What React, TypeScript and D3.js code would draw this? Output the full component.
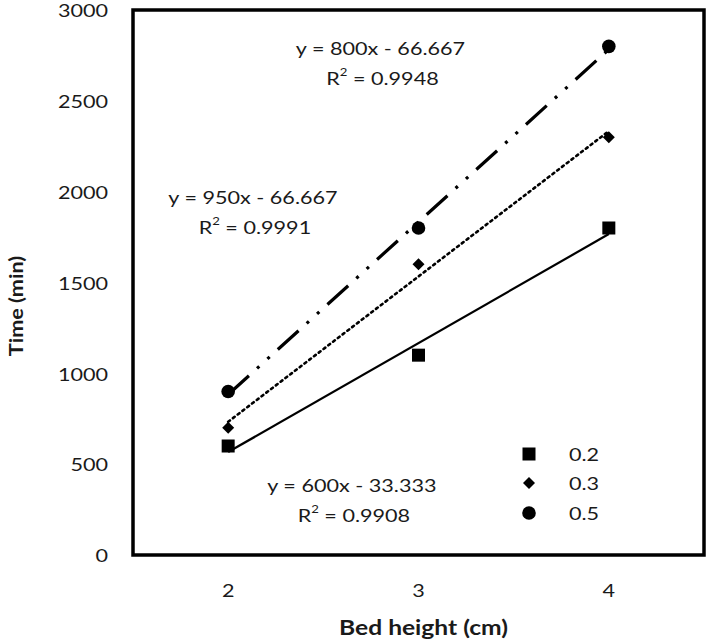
import React from "react";
import * as d3 from "d3";

const xValues = [2, 3, 4];
const seriesNames = ["0.2", "0.3", "0.5"];
const series02 = [600, 1100, 1800];
const series03 = [700, 1600, 2300];
const series05 = [900, 1800, 2800];
const yTicks = [0, 500, 1000, 1500, 2000, 2500, 3000];
const xTicks = [2, 3, 4];
const equationTexts = ["y = 600x - 33.333", "y = 800x - 66.667", "y = 950x - 66.667"];
const r2Texts = ["0.9908", "0.9948", "0.9991"];
// label anchor positions in data units (x, y)
const labelX = [2.65, 2.8, 2.13];
const labelY = [385, 2790, 1970];

const W = 709;
const H = 643;
const L = 133, R = 704, T = 10, B = 555;
const FONT = "Lato, 'Open Sans', sans-serif";
const SX = 1.2;
const COLOR = "#1a1a1a";

function fit(xs: number[], ys: number[]) {
  const mx = d3.mean(xs)!;
  const my = d3.mean(ys)!;
  let num = 0, den = 0;
  xs.forEach((x, i) => { num += (x - mx) * (ys[i] - my); den += (x - mx) ** 2; });
  const m = num / den;
  const b = my - m * mx;
  return (x: number) => m * x + b;
}

function Txt({ x, y, anchor = "middle", size = 18, weight = "normal", rotate = 0, children }: any) {
  return (
    <g transform={`translate(${x},${y}) rotate(${rotate}) scale(${SX},1)`}>
      <text x={0} y={0} textAnchor={anchor} dominantBaseline="central" fontSize={size} fontWeight={weight} fill={COLOR}>
        {children}
      </text>
    </g>
  );
}

export default function App() {
  const x = d3.scaleLinear().domain([1.5, 4.5]).range([L, R]);
  const y = d3.scaleLinear().domain([0, 3000]).range([B, T]);
  const data = [series02, series03, series05];
  const styles = [
    { dash: "none", w: 2.2 },
    { dash: "2.2 3.8", w: 2.6 },
    { dash: "28 11 3 11 3 11", w: 3.2 },
  ];
  const line = d3.line<[number, number]>().x(d => x(d[0])).y(d => y(d[1]));

  const marker = (k: number, cx: number, cy: number, key: string) => {
    if (k === 0) return <rect key={key} x={cx - 6.5} y={cy - 6.5} width={13} height={13} fill="#000" />;
    if (k === 1) {
      const s = 6;
      return <path key={key} d={`M${cx},${cy - s}L${cx + s},${cy}L${cx},${cy + s}L${cx - s},${cy}Z`} fill="#000" />;
    }
    return <circle key={key} cx={cx} cy={cy} r={6.8} fill="#000" />;
  };

  const legendX = 529;
  const legendY = [454, 483, 513];

  return (
    <svg width={W} height={H} style={{ position: "absolute", left: 0, top: 0, background: "#fff" }} fontFamily={FONT}>
      <rect x={0} y={0} width={W} height={H} fill="#fff" />
      {data.map((ys, k) => {
        const f = fit(xValues, ys);
        const x0 = xValues[0], x1 = xValues[xValues.length - 1];
        const pts: [number, number][] = [[x0, f(x0)], [x1, f(x1)]];
        return (
          <path key={"t" + k} d={line(pts)!} fill="none" stroke="#000" strokeWidth={styles[k].w}
            strokeDasharray={styles[k].dash} strokeLinecap={k === 1 ? "round" : "butt"} />
        );
      })}
      {data.map((ys, k) => ys.map((v, i) => marker(k, x(xValues[i]), y(v), `m${k}-${i}`)))}
      <rect x={L} y={T} width={R - L} height={B - T} fill="none" stroke="#000" strokeWidth={3.5} />
      {yTicks.map(t => (
        <Txt key={"y" + t} x={108} y={y(t)} anchor="end">{t}</Txt>
      ))}
      {xTicks.map(t => (
        <Txt key={"x" + t} x={x(t)} y={590}>{t}</Txt>
      ))}
      <Txt x={(L + R) / 2 + 5} y={627} size={20.5} weight="bold">Bed height (cm)</Txt>
      <Txt x={16} y={306} size={18} weight="bold" rotate={-90}>Time (min)</Txt>
      {equationTexts.map((eq, i) => (
        <g key={"e" + i}>
          <Txt x={x(labelX[i])} y={y(labelY[i])}>{eq}</Txt>
          <Txt x={x(labelX[i]) + 2} y={y(labelY[i]) + 30}>
            R<tspan dy={-7} fontSize={11}>2</tspan><tspan dy={7}> = {r2Texts[i]}</tspan>
          </Txt>
        </g>
      ))}
      {seriesNames.map((n, k) => (
        <g key={"l" + k}>
          {marker(k, legendX, legendY[k], "lm" + k)}
          <Txt x={569} y={legendY[k]} anchor="start">{n}</Txt>
        </g>
      ))}
    </svg>
  );
}
